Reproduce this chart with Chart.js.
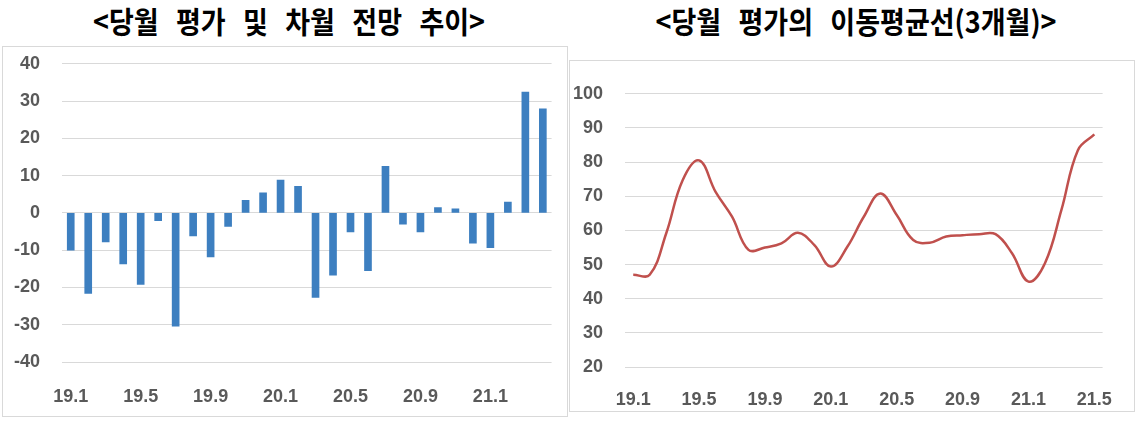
<!DOCTYPE html>
<html>
<head>
<meta charset="utf-8">
<script src="https://cdn.jsdelivr.net/npm/chart.js@4/dist/chart.umd.min.js"></script>
<style>
  body { margin: 0; background: #fff; width: 1135px; height: 426px; overflow: hidden; position: relative; }
  .title { position: absolute; top: 5px; font-family: "Noto Sans CJK KR", sans-serif; font-weight: 700; font-size: 30px; line-height: 30px; word-spacing: 12.5px; color: #000; white-space: nowrap; transform: translateX(-50%) scaleX(0.9); }
  .panel { position: absolute; border: 1px solid #d9d9d9; background: #fff; }
  .panel canvas { display: block; position: absolute; left: 0; }
</style>
</head>
<body>
<div class="title" style="left:289px">&lt;당월 평가 및 차월 전망 추이&gt;</div>
<div class="title" style="left:856px">&lt;당월 평가의 이동평균선(3개월)&gt;</div>

<div class="panel" style="left:2px; top:46px; width:564px; height:369px;">
  <canvas id="barChart" width="564" height="385" style="top:-16px"></canvas>
</div>
<div class="panel" style="left:569px; top:60px; width:564px; height:350px;">
  <canvas id="lineChart" width="564" height="350" style="top:0"></canvas>
</div>

<script>
// months 19.1 ~ 21.4 (bars), 19.1 ~ 21.5 (moving average)
const barMonths = [
  '19.1', '19.2', '19.3', '19.4', '19.5', '19.6', '19.7', '19.8', '19.9', '19.10', '19.11', '19.12',
  '20.1', '20.2', '20.3', '20.4', '20.5', '20.6', '20.7', '20.8', '20.9', '20.10', '20.11', '20.12',
  '21.1', '21.2', '21.3', '21.4'
];
const barValues = [
  -10.0, -21.6, -7.8, -13.7, -19.2, -2.1, -30.4, -6.2, -11.8, -3.6, 3.4, 5.4,
  8.8, 7.1, -22.7, -16.7, -5.1, -15.5, 12.5, -3.0, -5.1, 1.4, 1.1, -8.1,
  -9.3, 2.9, 32.4, 27.9
];
const lineMonths = barMonths.concat(['21.5']);
const lineValues = [
  47.0, 47.0, 59.1, 74.7, 80.5, 71.3, 64.0, 54.3, 55.0, 56.2, 59.3, 55.7,
  49.4, 55.2, 64.0, 70.8, 64.5, 57.2, 56.4, 58.2, 58.6, 58.9, 58.9, 53.3,
  45.0, 50.4, 66.0, 83.5, 88.1
];
const barTicks = [-40, -30, -20, -10, 0, 10, 20, 30, 40];
const lineTicks = [20, 30, 40, 50, 60, 70, 80, 90, 100];

const tickFont = { family: '"Liberation Sans Narrow", "Liberation Sans", sans-serif', size: 18, weight: 'bold' };
const tickColor = '#595959';
const gridColor = '#d9d9d9';

function labelEvery4(value, index) {
  return index % 4 === 0 ? this.getLabelForValue(value) : '';
}

new Chart(document.getElementById('barChart'), {
  type: 'bar',
  data: {
    labels: barMonths,
    datasets: [{
      data: barValues,
      backgroundColor: '#3d7fc0',
      barThickness: 7
    }]
  },
  options: {
    responsive: false,
    animation: false,
    layout: { padding: { top: 32, right: 9, bottom: 0, left: 0 } },
    plugins: { legend: { display: false }, tooltip: { enabled: false } },
    scales: {
      x: {
        offset: true,
        grid: { display: false, drawTicks: false },
        border: { display: false },
        ticks: { autoSkip: false, maxRotation: 0, padding: 24, color: tickColor, font: tickFont, callback: labelEvery4 },
        afterFit: s => { s.height = 54; }
      },
      y: {
        min: -40, max: 40,
        afterBuildTicks: s => { s.ticks = barTicks.map(v => ({ value: v })); },
        grid: { color: gridColor, drawTicks: false, lineWidth: 1 },
        border: { display: false },
        ticks: { padding: 22, color: tickColor, font: tickFont },
        afterFit: s => { s.width = 59; }
      }
    }
  }
});

new Chart(document.getElementById('lineChart'), {
  type: 'line',
  data: {
    labels: lineMonths,
    datasets: [{
      data: lineValues,
      borderColor: '#c0504d',
      borderWidth: 2.5,
      pointRadius: 0,
      tension: 0.4,
      fill: false
    }]
  },
  options: {
    responsive: false,
    animation: false,
    layout: { padding: { top: 32, right: 7, bottom: 0, left: 0 } },
    plugins: { legend: { display: false }, tooltip: { enabled: false } },
    scales: {
      x: {
        offset: true,
        grid: { display: false, drawTicks: false },
        border: { display: false },
        ticks: { autoSkip: false, maxRotation: 0, padding: 22, color: tickColor, font: tickFont, callback: labelEvery4 },
        afterFit: s => { s.height = 44; }
      },
      y: {
        min: 20, max: 100,
        afterBuildTicks: s => { s.ticks = lineTicks.map(v => ({ value: v })); },
        grid: { color: gridColor, drawTicks: false, lineWidth: 1 },
        border: { display: false },
        ticks: { padding: 22, color: tickColor, font: tickFont },
        afterFit: s => { s.width = 55; }
      }
    }
  }
});
</script>
</body>
</html>
